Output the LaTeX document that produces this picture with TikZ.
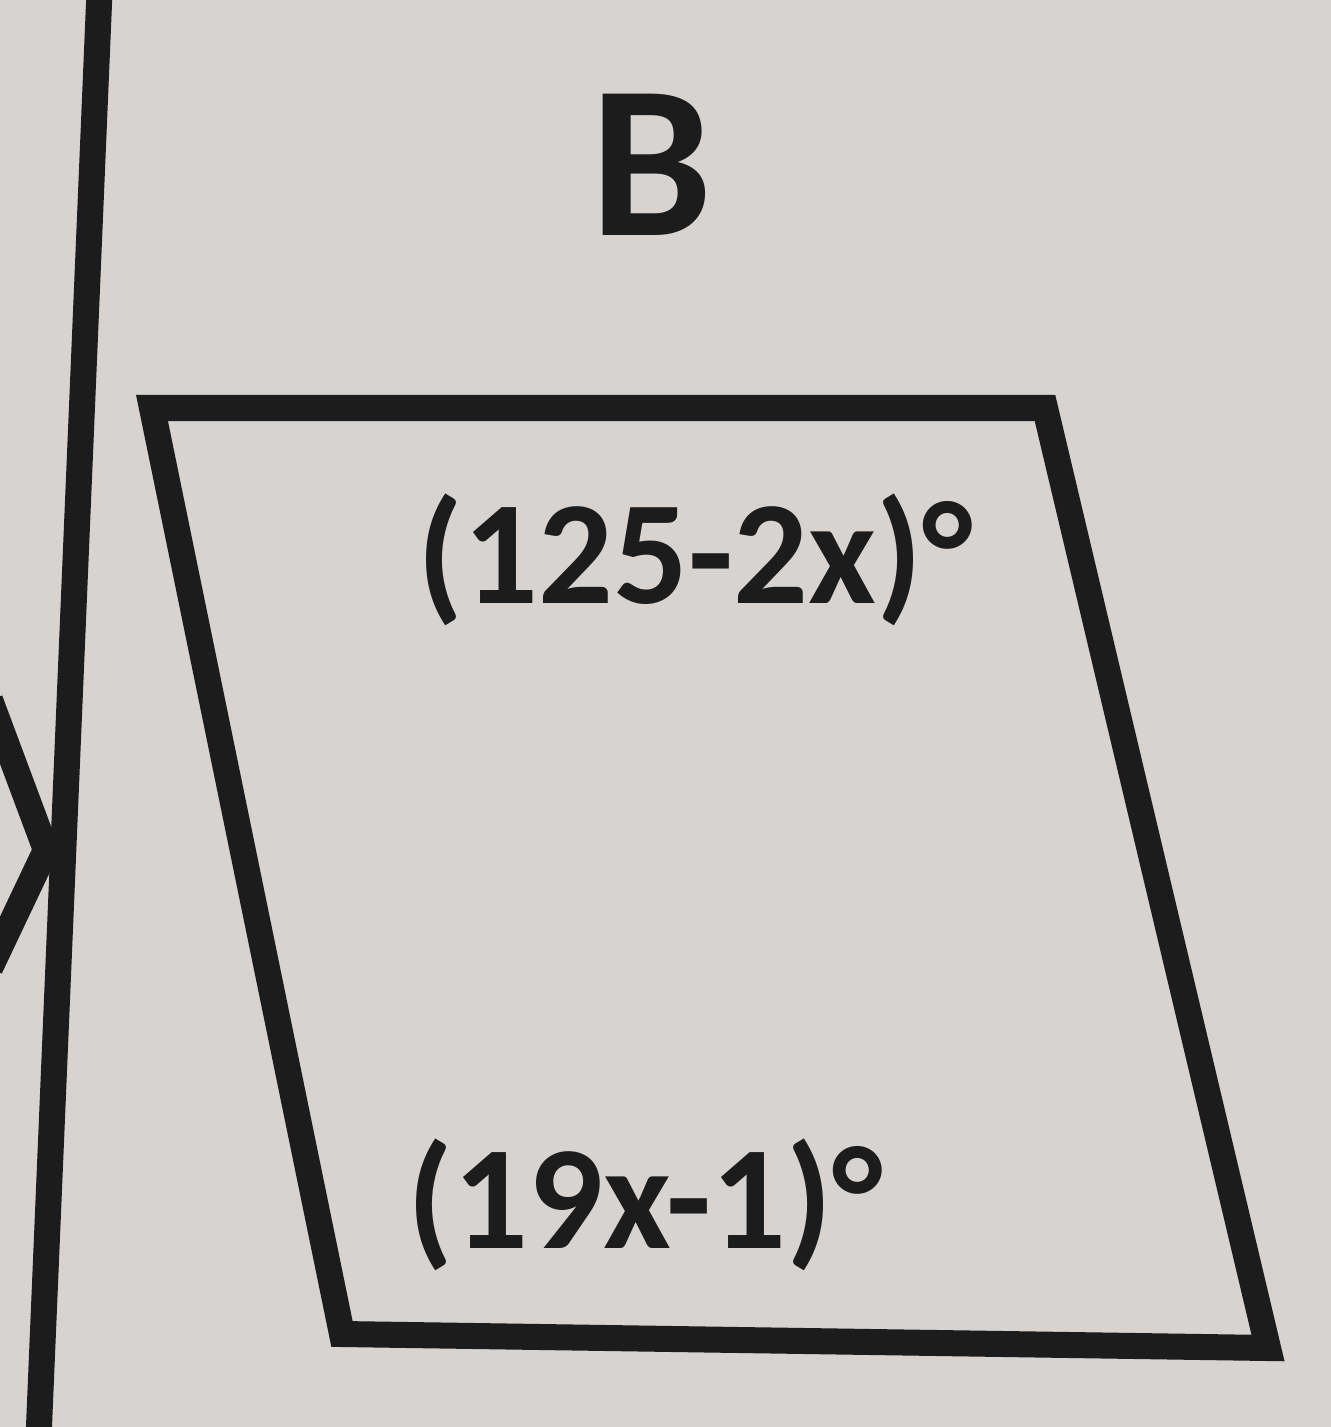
\documentclass[tikz,border=0pt]{standalone}
\usepackage{fontspec}
\setmainfont{Carlito}
\usetikzlibrary{positioning}
\definecolor{paper}{RGB}{214,211,208}
\definecolor{ink}{RGB}{28,28,28}

\begin{document}
\begin{tikzpicture}[x=0.01cm,y=-0.01cm,
  edge/.style={draw=ink,line width=0.26cm},
  angle/.style={text=ink,font=\fontsize{42}{48}\selectfont\bfseries,inner sep=0pt}]

        \fill[paper] (0,0) rectangle (1331,1427);
        \useasboundingbox (0,0) rectangle (1331,1427);

        % corners of the parallelogram
        \coordinate (TL) at (152,408);
        \coordinate (TR) at (1045,408);
        \coordinate (BR) at (1268,1348);
        \coordinate (BL) at (342,1334);

        \draw[edge] (TL) -- (TR) -- (BR) -- (BL) -- cycle;

        % divider and piece of the next figure
        \coordinate (D1) at (100,-20);
        \coordinate (D2) at (38,1450);
        \draw[edge] (D1) -- (D2);
        \draw[edge] (-10,700) -- (46,850) -- (-10,968);

        \node (title) at (652,165) [text=ink,font=\fontsize{62}{70}\selectfont\bfseries] {B};
        \node (top) at (695,560) [angle] {(125-2x)°};
        \node (bot) at (645,1205) [angle] {(19x-1)°};
\end{tikzpicture}
\end{document}
